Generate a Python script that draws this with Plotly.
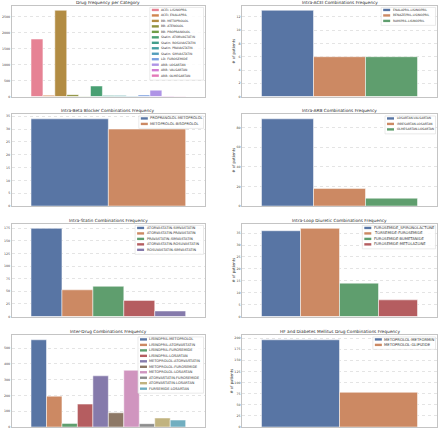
import colorsys
import plotly.graph_objects as go

W, H = 440, 431

# ---------------- data ----------------
cat_labels = ["ACEI: LISINOPRIL", "ACEI: ENALAPRIL", "BB: METOPROLOL", "BB: ATENOLOL",
              "BB: PROPRANOLOL", "Statin: ATORVASTATIN", "Statin: ROSUVASTATIN",
              "Statin: PRAVASTATIN", "Statin: SIMVASTATIN", "LD: FUROSEMIDE",
              "ARB: LOSARTAN", "ARB: VALSARTAN", "ARB: OLMESARTAN"]
cat_counts = [1800, 40, 2700, 60, 12, 330, 30, 30, 15, 50, 200, 20, 6]

acei_labels = ["ENALAPRIL-LISINOPRIL", "BENAZEPRIL-LISINOPRIL", "RAMIPRIL-LISINOPRIL"]
acei_counts = [13, 6, 6]

bb_labels = ["PROPRANOLOL-METOPROLOL", "METOPROLOL-BISOPROLOL"]
bb_counts = [34, 30]

arb_labels = ["LOSARTAN-VALSARTAN", "IRBESARTAN-LOSARTAN", "OLMESARTAN-LOSARTAN"]
arb_counts = [89, 18, 8]

statin_labels = ["ATORVASTATIN-SIMVASTATIN", "ATORVASTATIN-PRAVASTATIN",
                 "PRAVASTATIN-SIMVASTATIN", "ATORVASTATIN-ROSUVASTATIN",
                 "ROSUVASTATIN-SIMVASTATIN"]
statin_counts = [175, 53, 60, 32, 11]

loop_labels = ["FUROSEMIDE_SPIRONOLACTONE", "TORSEMIDE-FUROSEMIDE",
               "FUROSEMIDE-BUMETANIDE", "FUROSEMIDE-METOLAZONE"]
loop_counts = [36, 37, 14, 7]

inter_labels = ["LISINOPRIL-METOPROLOL", "LISINOPRIL-ATORVASTATIN", "LISINOPRIL-FUROSEMIDE",
                "LISINOPRIL-LOSARTAN", "METOPROLOL-ATORVASTATIN", "METOPROLOL-FUROSEMIDE",
                "METOPROLOL-LOSARTAN", "ATORVASTATIN-FUROSEMIDE", "ATORVASTATIN-LOSARTAN",
                "FURSEMIDE-LOSARTAN"]
inter_counts = [552, 195, 23, 145, 324, 90, 359, 21, 57, 44]

hfdm_labels = ["METOPROLOL-METFORMIN", "METOPROLOL-GLIPIZIDE"]
hfdm_counts = [196, 78]

titles = ["Drug Frequency per Category", "Intra-ACEI Combinations Frequency",
          "Intra-Beta Blocker Combinations Frequency", "Intra-ARB Combinations Frequency",
          "Intra-Statin Combinations Frequency", "Intra-Loop Diuretic Combinations Frequency",
          "Inter-Drug Combinations Frequency",
          "HF and Diabetes Mellitus Drug Combinations Frequency"]
y_steps = [500, 2, 5, 20, 25, 5, 100, 25]
y_label = "# of patients"

# ---------------- styling ----------------
deep = ["#4C72B0", "#DD8452", "#55A868", "#C44E52", "#8172B3",
        "#937860", "#DA8BC3", "#8C8C8C", "#CCB974", "#64B5CD"]
husl13 = ["#f77189", "#e5823a", "#c49231", "#9ca031", "#6fab38", "#3aaf72", "#34ad94",
          "#36abb0", "#40a5cc", "#6a9bf0", "#ab86f4", "#e06fe0", "#f567bc"]


def desat(hexc, p=0.75):
    r, g, b = (int(hexc[i:i + 2], 16) / 255 for i in (1, 3, 5))
    h, l, s = colorsys.rgb_to_hls(r, g, b)
    r, g, b = colorsys.hls_to_rgb(h, l, s * p)
    return "rgb(%d,%d,%d)" % (round(r * 255), round(g * 255), round(b * 255))


data_sets = [(cat_labels, cat_counts), (acei_labels, acei_counts), (bb_labels, bb_counts),
             (arb_labels, arb_counts), (statin_labels, statin_counts),
             (loop_labels, loop_counts), (inter_labels, inter_counts),
             (hfdm_labels, hfdm_counts)]

# layout geometry in pixels
col_x = [(11.7, 205.0), (242.0, 437.0)]
row_y = [(6.0, 97.0), (115.0, 207.0), (225.0, 318.0), (337.0, 429.0)]
legend_fs = [3.1, 3.0, 3.6, 3.0, 3.4, 3.7, 3.5, 3.8]
FONT = "DejaVu Sans"


def px(x):
    return x / W


def py(y):
    return 1 - y / H


fig = go.Figure()
shapes, annots = [], []
layout = {}

for k, ((labels, vals), title) in enumerate(zip(data_sets, titles)):
    row, col = k // 2, k % 2
    x0, x1 = col_x[col]
    top, bot = row_y[row]
    sfx = "" if k == 0 else str(k + 1)
    palette = husl13 if k == 0 else deep
    for i, (lab, v) in enumerate(zip(labels, vals)):
        fig.add_trace(go.Bar(
            x=["c"], y=[v], name=lab, showlegend=False,
            marker=dict(color=desat(palette[i]), line=dict(color="white", width=0.5)),
            xaxis="x" + sfx, yaxis="y" + sfx, hoverinfo="name+y"))
    ymax = max(vals) * 1.05
    layout["xaxis" + sfx] = dict(
        domain=[px(x0), px(x1)], anchor="y" + sfx, type="category", range=[-0.5, 0.5],
        showticklabels=False, showgrid=False, zeroline=False, showline=True,
        mirror=True, linecolor="#c4c4c4", linewidth=0.8, ticks="")
    ydict = dict(
        domain=[py(bot), py(top)], anchor="x" + sfx, range=[0, ymax], dtick=y_steps[k],
        showgrid=True, gridcolor="#e4e4e4", gridwidth=0.5, griddash="dot",
        zeroline=False, showline=True, mirror=True, linecolor="#c4c4c4",
        linewidth=0.8, ticks="", tickfont=dict(size=3.2, color="#444", family=FONT))
    if col == 1:
        ydict["title"] = dict(text=y_label, font=dict(size=3.8, color="#333", family=FONT),
                              standoff=1)
    layout["yaxis" + sfx] = ydict

    # title
    annots.append(dict(text=title, x=px((x0 + x1) / 2), y=py(top - 0.2), xref="paper",
                       yref="paper", xanchor="center", yanchor="bottom", showarrow=False,
                       font=dict(size=4.3, color="#262626", family=FONT), borderpad=0))

    # legend (drawn box, swatches, labels)
    fs = legend_fs[k]
    spacing = 5.5
    n = len(labels)
    longest = max(len(s) for s in labels)
    bw = 11 + longest * fs * 0.64 + 3
    bx1 = x1 - 1.5
    bx0 = bx1 - bw
    by0 = top + 1.5
    by1 = by0 + n * spacing + 1.5
    shapes.append(dict(type="rect", xref="paper", yref="paper", x0=px(bx0), x1=px(bx1),
                       y0=py(by1), y1=py(by0), line=dict(color="#dcdcdc", width=0.6),
                       fillcolor="rgba(255,255,255,0.85)", layer="above"))
    for i, lab in enumerate(labels):
        cy = by0 + 2.5 + i * spacing
        shapes.append(dict(type="rect", xref="paper", yref="paper",
                           x0=px(bx0 + 2), x1=px(bx0 + 9), y0=py(cy + 1.2), y1=py(cy - 1.2),
                           fillcolor=desat(palette[i]), line=dict(width=0), layer="above"))
        annots.append(dict(text=lab, x=px(bx0 + 10.5), y=py(cy), xref="paper", yref="paper",
                           xanchor="left", yanchor="middle", showarrow=False, borderpad=0,
                           font=dict(size=fs, color="#333", family=FONT)))

fig.update_layout(
    width=W, height=H, margin=dict(l=0, r=0, t=0, b=0),
    paper_bgcolor="white", plot_bgcolor="white",
    barmode="group", bargap=0.2, bargroupgap=0,
    font=dict(family=FONT, color="#333"),
    shapes=shapes, annotations=annots, **layout)

fig.write_html("out.html", config={"displayModeBar": False},
               post_script="document.body.style.margin='0';document.body.style.overflow='hidden';")
